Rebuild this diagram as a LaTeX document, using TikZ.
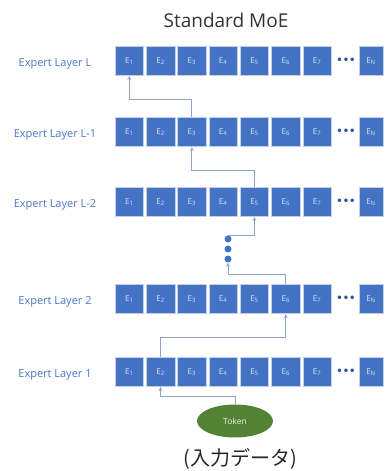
\documentclass[tikz,border=0pt]{standalone}
\usepackage{fontspec}
\setmainfont{Open Sans}
\newfontfamily\symfont{DejaVu Sans}
\newfontfamily\jpfont{Noto Sans CJK JP}
\usetikzlibrary{shapes.geometric, arrows}
\definecolor{moeblue}{HTML}{4472C4}
\definecolor{edgeblue}{HTML}{C5D0E6}
\definecolor{linkblue}{HTML}{8DA3CF}
\definecolor{lblblue}{HTML}{4A76C6}
\definecolor{dotblue}{HTML}{2F5597}
\definecolor{tokgreen}{HTML}{548235}
\tikzstyle{expert} = [rectangle, minimum width=28.5pt, minimum height=29.5pt, inner sep=0pt, text centered, draw=edgeblue, line width=0.6pt, fill=moeblue, text=white!80!moeblue, font=\fontsize{8}{9}\selectfont]
\tikzstyle{lbl} = [anchor=base, text=lblblue, font=\fontsize{11}{13}\selectfont]
\tikzstyle{link} = [linkblue, line width=0.8pt, ->, >=stealth]
\tikzstyle{vdot} = [circle, fill=moeblue, inner sep=0pt, minimum size=7pt]
\tikzstyle{token} = [ellipse, minimum width=76pt, minimum height=33pt, inner sep=0pt, fill=tokgreen, text=white!90!tokgreen, font=\fontsize{8.5}{9}\selectfont]

\begin{document}
\begin{tikzpicture}[x=1pt,y=1pt]
\useasboundingbox (0,0) rectangle (384,471);
\node[anchor=base, text=black!80, font=\fontsize{19}{22}\selectfont] (title) at (226,443) {Standard MoE};
\foreach \r/\y/\t in {L/410/L, Lm1/339/L-1, Lm2/269/L-2, two/172/2, one/99/1}{
	\node[lbl] (lbl-\r) at (55,\y-5.5) {Expert Layer \t};
	\foreach \i in {1,...,7}{
		\node[expert] (e-\r-\i) at ({129.25+(\i-1)*31.3},\y) {E\textsubscript{\i}};
	}
	\node[text=dotblue, font=\symfont\bfseries\fontsize{10}{10}\selectfont, inner sep=0pt] (more-\r) at (346,\y) {•••};
	\node[expert, minimum width=24pt] (e-\r-N) at (371,\y) {E\textsubscript{N}};
}
\node[vdot] (d1) at (228,232) {};
\node[vdot] (d2) at (228,222) {};
\node[vdot] (d3) at (228,212) {};
\node[token] (token) at (235,50) {Token};
\node[font=\jpfont\fontsize{20}{22}\selectfont, text=black!85] (caption) at (240,12) {(入力データ)};
\draw[link] (token.north) -- ++(0,7.5) -| (e-one-2.south);
\draw[link] (e-one-2.north) -- ++(0,20) -| (e-two-6.south);
\draw[link] (e-two-6.north) -- ++(0,10) -| (d3.south);
\draw[link] (d1.north) -| (e-Lm2-5.south);
\draw[link] (e-Lm2-5.north) -- ++(0,17) -| (e-Lm1-3.south);
\draw[link] (e-Lm1-3.north) -- ++(0,18) -| (e-L-1.south);
\end{tikzpicture}
\end{document}
